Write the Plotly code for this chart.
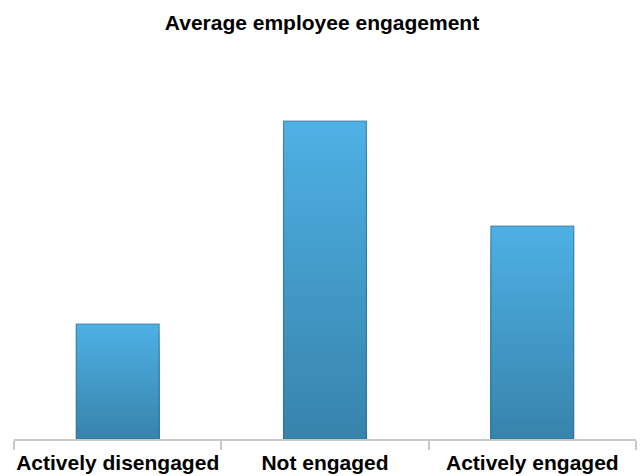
import plotly.graph_objects as go

categories = ["Actively disengaged", "Not engaged", "Actively engaged"]
values = [1.15, 3.18, 2.13]
title_text = "Average employee engagement"

N = 40
top_rgb = (78, 176, 228)
bot_rgb = (55, 132, 172)

fig = go.Figure()
# draw from tallest (top colour) to shortest (bottom colour) to form a gradient without gaps
for k in range(N, 0, -1):
    t = (k - 1) / (N - 1)
    c = tuple(round(b + (tp - b) * t) for b, tp in zip(bot_rgb, top_rgb))
    fig.add_trace(go.Bar(
        x=categories,
        y=[v * k / N for v in values],
        width=0.4,
        marker=dict(color="rgb(%d,%d,%d)" % c, line=dict(width=0)),
        hoverinfo="skip",
        showlegend=False,
    ))
# outline
fig.add_trace(go.Bar(
    x=categories, y=values, width=0.4,
    marker=dict(color="rgba(0,0,0,0)", line=dict(color="rgba(45,110,145,0.7)", width=1.2)),
    showlegend=False,
))

fig.update_layout(
    barmode="overlay",
    width=644, height=476,
    paper_bgcolor="white", plot_bgcolor="white",
    margin=dict(l=14, r=8, t=60, b=37, autoexpand=False),
    title=dict(text="<b>%s</b>" % title_text, x=0.5, xanchor="center", y=0.952, yanchor="middle",
               font=dict(family="Liberation Sans, Arial", size=21, color="black")),
    font=dict(family="Liberation Sans, Arial"),
)
fig.update_xaxes(
    showline=True, linecolor="#c8c8c8", linewidth=1.5,
    ticks="outside", tickson="boundaries", ticklen=9, tickcolor="#c8c8c8", tickwidth=1.5,
    tickfont=dict(size=21, color="black", family="Liberation Sans, Arial"),
    tickprefix="<b>", ticksuffix="</b>",
    tickangle=0, automargin=False,
    ticklabelstandoff=4,
    showgrid=False,
)
fig.update_yaxes(range=[0, 3.79], visible=False, showgrid=False)

fig.write_html("out.html")
